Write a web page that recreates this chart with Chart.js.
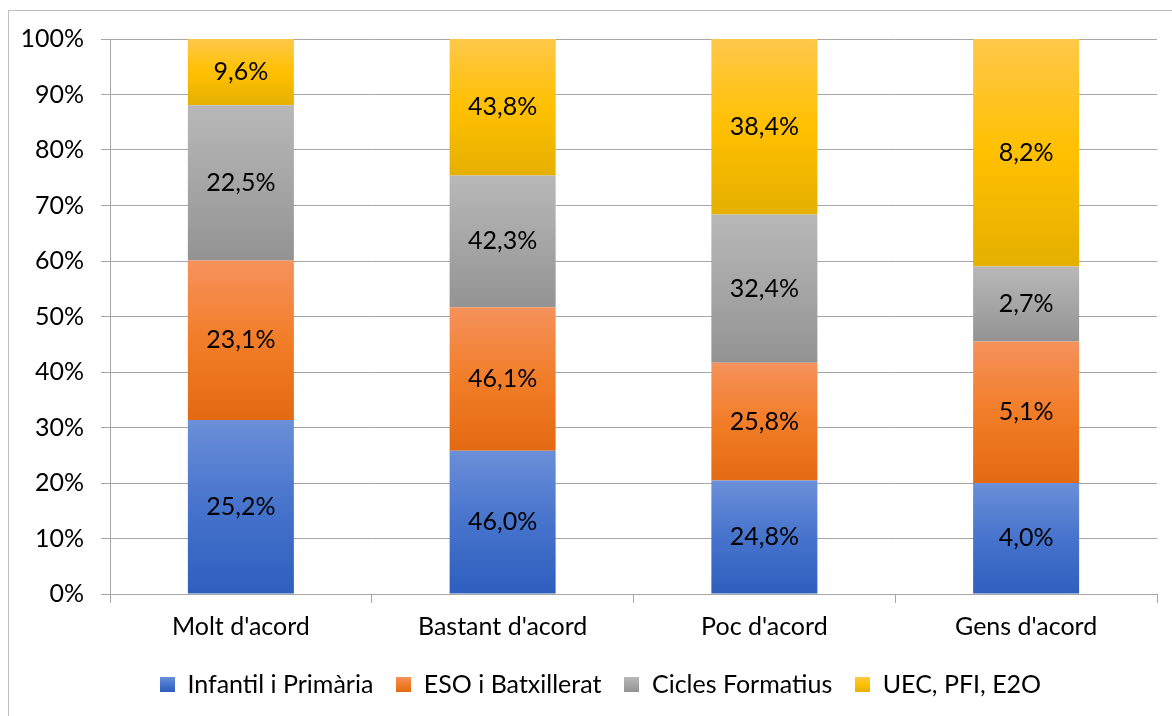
<!DOCTYPE html>
<html>
<head>
<meta charset="utf-8">
<script src="https://cdn.jsdelivr.net/npm/chart.js@4"></script>
<style>
  html, body { margin: 0; padding: 0; background: #fff; }
  #wrap { position: relative; width: 1172px; height: 716px; overflow: hidden; }
  #frame { position: absolute; left: 8px; top: 10px; width: 1200px; height: 800px; border: 1px solid #bfbfbf; box-sizing: border-box; }
  canvas { position: absolute; left: 0; top: 0; }
</style>
</head>
<body>
<div id="wrap">
  <div id="frame"></div>
  <canvas id="bar-chart" width="1202" height="716"></canvas>
</div>
<script>
const categories = ["Molt d'acord", "Bastant d'acord", "Poc d'acord", "Gens d'acord"];
const seriesNames = ["Infantil i Primària", "ESO i Batxillerat", "Cicles Formatius", "UEC, PFI, E2O"];
const infantil = [25.2, 46.0, 24.8, 4.0];
const eso = [23.1, 46.1, 25.8, 5.1];
const cicles = [22.5, 42.3, 32.4, 2.7];
const uec = [9.6, 43.8, 38.4, 8.2];
const yTicks = [0, 10, 20, 30, 40, 50, 60, 70, 80, 90, 100];

const rawSeries = [infantil, eso, cicles, uec];
// top, middle, bottom stop of each fill
const shades = [
  ['#6b8fd8', '#4673cc', '#2e5fbe'],
  ['#f5925c', '#f27d28', '#e36a12'],
  ['#b8b8b8', '#a6a6a6', '#939393'],
  ['#ffc84a', '#ffc000', '#e5b000']
];

// 100% stacked: share of each series inside a category
const totals = categories.map((c, i) => rawSeries.reduce((s, arr) => s + arr[i], 0));
const shares = rawSeries.map(arr => arr.map((v, i) => v / totals[i] * 100));

const FONT = 'Lato';
const SIZE = 25;
const bottomOf = (ds, i) => shares.slice(0, ds).reduce((s, arr) => s + arr[i], 0);

const gradientFill = ctx => {
  const chart = ctx.chart;
  const c = shades[ctx.datasetIndex];
  if (!chart.chartArea || ctx.type !== 'data') return c[1];
  const y = chart.scales.y;
  const lo = bottomOf(ctx.datasetIndex, ctx.dataIndex);
  const hi = lo + shares[ctx.datasetIndex][ctx.dataIndex];
  const g = chart.ctx.createLinearGradient(0, y.getPixelForValue(hi), 0, y.getPixelForValue(lo));
  g.addColorStop(0, c[0]);
  g.addColorStop(0.5, c[1]);
  g.addColorStop(1, c[2]);
  return g;
};

const valueLabels = {
  id: 'valueLabels',
  afterDatasetsDraw(chart) {
    const ctx = chart.ctx;
    ctx.save();
    ctx.font = SIZE + 'px ' + FONT;
    ctx.fillStyle = '#000';
    ctx.textAlign = 'center';
    ctx.textBaseline = 'middle';
    chart.data.datasets.forEach((ds, d) => {
      chart.getDatasetMeta(d).data.forEach((el, i) => {
        const txt = rawSeries[d][i].toFixed(1).replace('.', ',') + '%';
        ctx.fillText(txt, el.x, (el.y + el.base) / 2);
      });
    });
    ctx.restore();
  }
};

// legend sits centred on the whole frame, not on the plot
const legendShift = {
  id: 'legendShift',
  afterLayout(chart) {
    chart.legend.left += 22;
    chart.legend.right += 22;
  }
};

const legendSwatch = (color) => {
  const c = document.createElement('canvas');
  c.width = 15; c.height = 15;
  const g = c.getContext('2d');
  const gr = g.createLinearGradient(0, 0, 0, 15);
  gr.addColorStop(0, color[0]);
  gr.addColorStop(0.5, color[1]);
  gr.addColorStop(1, color[2]);
  g.fillStyle = gr;
  g.fillRect(0, 0, 15, 15);
  return c;
};

new Chart(document.getElementById('bar-chart').getContext('2d'), {
  type: 'bar',
  data: {
    labels: categories,
    datasets: shares.map((arr, d) => ({
      label: seriesNames[d],
      data: arr,
      backgroundColor: gradientFill,
      borderWidth: 0,
      categoryPercentage: 1,
      barPercentage: 0.405
    }))
  },
  options: {
    responsive: false,
    animation: false,
    layout: { padding: { left: 0, right: 45, top: 39, bottom: 9 } },
    plugins: {
      tooltip: { enabled: false },
      legend: {
        position: 'bottom',
        labels: {
          font: { family: FONT, size: SIZE },
          color: '#000',
          boxWidth: 15,
          boxHeight: 15,
          padding: 23,
          usePointStyle: true,
          generateLabels: chart => seriesNames.map((n, d) => ({
            text: n,
            pointStyle: legendSwatch(shades[d]),
            datasetIndex: d,
            hidden: false,
            lineWidth: 0
          }))
        }
      }
    },
    scales: {
      x: {
        stacked: true,
        afterFit: s => { s.height = s.height - 2; },
        grid: { display: true, drawOnChartArea: false, offset: true, tickLength: 9, color: '#a6a6a6' },
        border: { color: '#a6a6a6' },
        ticks: { font: { family: FONT, size: SIZE }, color: '#000', padding: 9 }
      },
      y: {
        stacked: true,
        min: 0,
        max: 100,
        afterFit: s => { s.width = 110; },
        afterBuildTicks: s => { s.ticks = yTicks.map(v => ({ value: v })); },
        grid: { color: '#a6a6a6', tickLength: 9 },
        border: { color: '#a6a6a6' },
        ticks: { font: { family: FONT, size: SIZE }, color: '#000', padding: 17, callback: v => v + '%' }
      }
    }
  },
  plugins: [valueLabels, legendShift]
});
</script>
</body>
</html>
